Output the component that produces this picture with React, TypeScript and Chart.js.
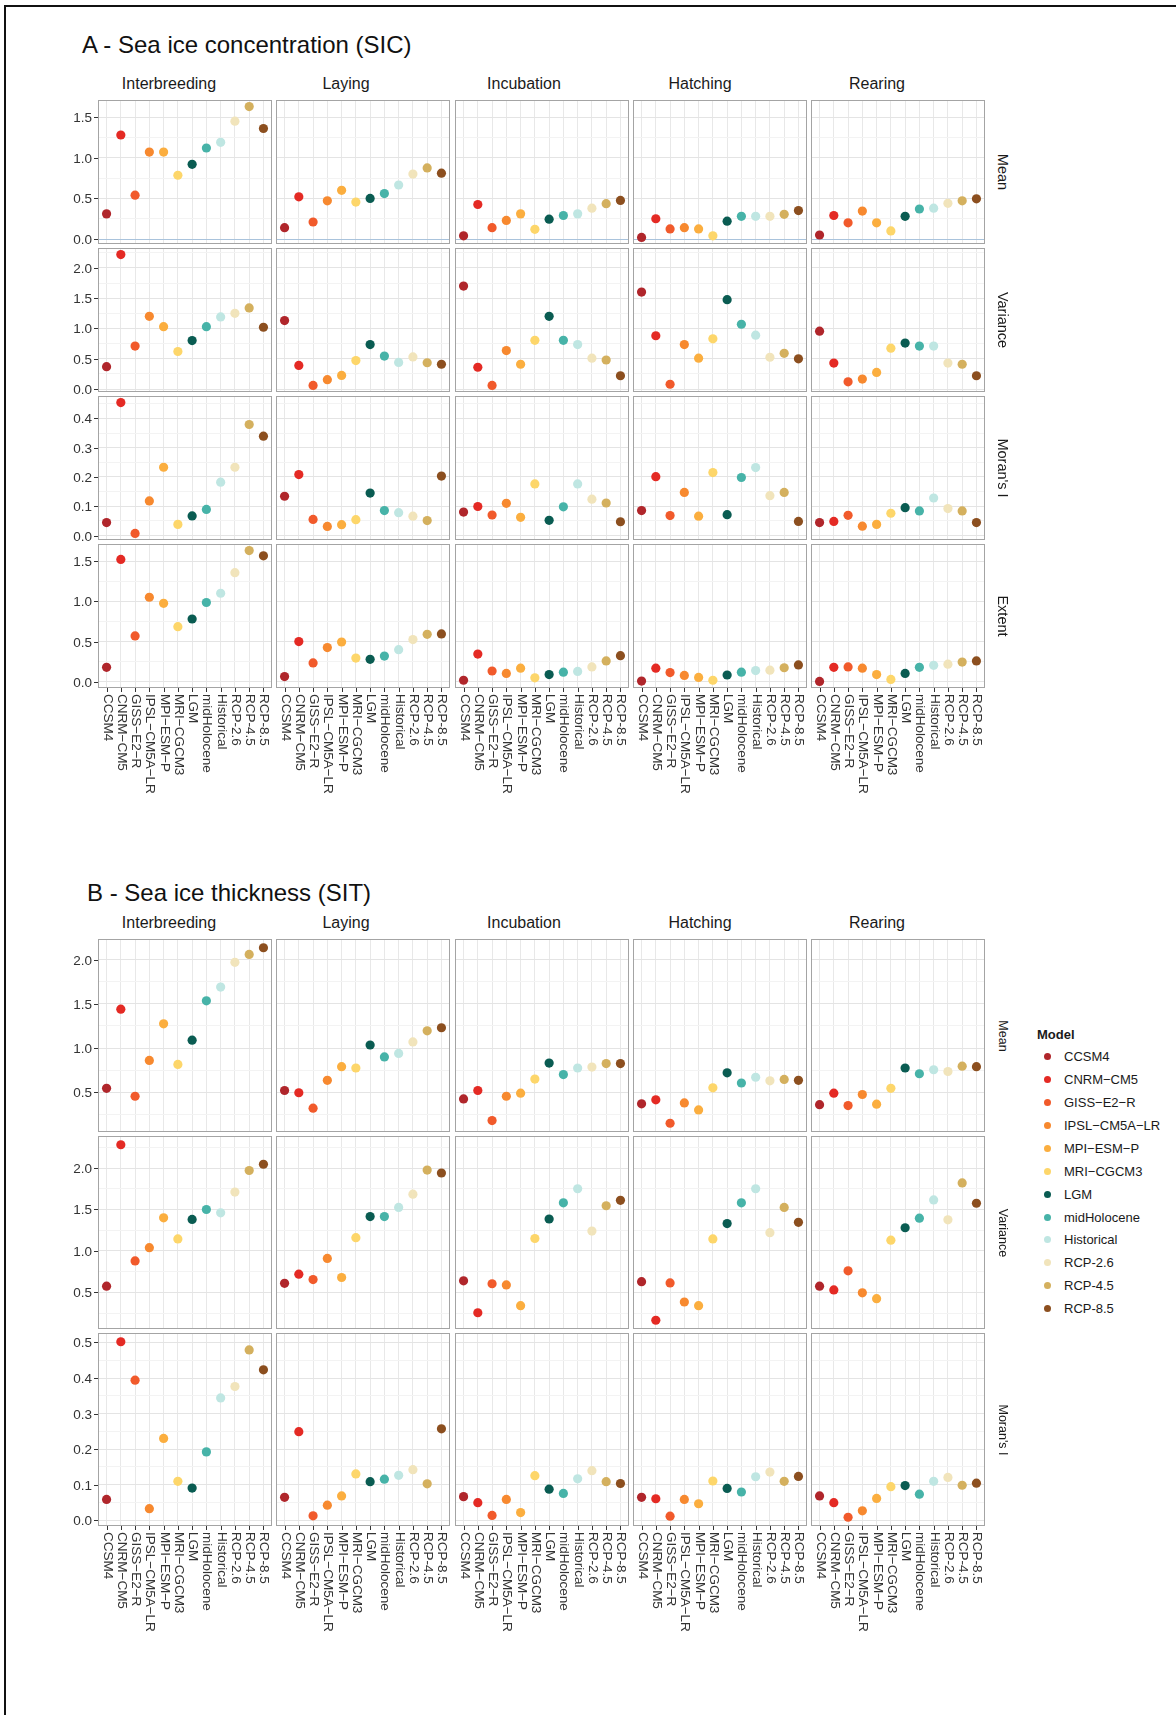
import React, { useEffect, useRef } from "react";
import { Chart, registerables } from "chart.js";

Chart.register(...registerables);

const FONT = '"Liberation Sans", Arial, Helvetica, sans-serif';

// ---------- data ----------
const categories = [
  "CCSM4", "CNRM−CM5", "GISS−E2−R", "IPSL−CM5A−LR", "MPI−ESM−P", "MRI−CGCM3",
  "LGM", "midHolocene", "Historical", "RCP-2.6", "RCP-4.5", "RCP-8.5",
];
const colors = [
  "#b0262b", "#e42a24", "#f15a2b", "#f7892f", "#fbae3f", "#fdd66a",
  "#0a5c52", "#47b3a8", "#bfe6e2", "#f1e4bb", "#d4b05e", "#8c4f1f",
];
const stages = ["Interbreeding", "Laying", "Incubation", "Hatching", "Rearing"];

// A - Sea ice concentration (rows: stages in order above)
const sicMean = [
  [0.31, 1.28, 0.54, 1.07, 1.07, 0.785, 0.92, 1.12, 1.19, 1.45, 1.63, 1.36],
  [0.14, 0.52, 0.21, 0.47, 0.6, 0.455, 0.5, 0.56, 0.665, 0.8, 0.875, 0.81],
  [0.04, 0.425, 0.14, 0.23, 0.31, 0.12, 0.245, 0.29, 0.31, 0.38, 0.435, 0.475],
  [0.02, 0.25, 0.125, 0.14, 0.125, 0.04, 0.22, 0.28, 0.28, 0.28, 0.305, 0.35],
  [0.05, 0.29, 0.2, 0.345, 0.2, 0.1, 0.28, 0.37, 0.38, 0.44, 0.47, 0.495],
];
const sicVariance = [
  [0.37, 2.22, 0.71, 1.2, 1.03, 0.62, 0.8, 1.03, 1.19, 1.25, 1.34, 1.02],
  [1.13, 0.39, 0.06, 0.155, 0.225, 0.47, 0.735, 0.545, 0.44, 0.53, 0.435, 0.41],
  [1.7, 0.36, 0.06, 0.635, 0.41, 0.805, 1.2, 0.805, 0.735, 0.51, 0.48, 0.22],
  [1.6, 0.88, 0.08, 0.735, 0.51, 0.83, 1.475, 1.07, 0.89, 0.525, 0.59, 0.5],
  [0.955, 0.43, 0.12, 0.165, 0.275, 0.675, 0.76, 0.71, 0.71, 0.43, 0.41, 0.22],
];
const sicMoran = [
  [0.044, 0.454, 0.007, 0.118, 0.233, 0.038, 0.067, 0.089, 0.182, 0.233, 0.379, 0.339],
  [0.134, 0.208, 0.055, 0.031, 0.037, 0.054, 0.145, 0.085, 0.078, 0.066, 0.051, 0.203],
  [0.08, 0.099, 0.07, 0.11, 0.062, 0.176, 0.052, 0.098, 0.176, 0.124, 0.111, 0.047],
  [0.085, 0.201, 0.068, 0.147, 0.066, 0.215, 0.071, 0.198, 0.232, 0.136, 0.147, 0.048],
  [0.044, 0.048, 0.069, 0.032, 0.038, 0.076, 0.095, 0.084, 0.128, 0.092, 0.084, 0.044],
];
const sicExtent = [
  [0.18, 1.52, 0.57, 1.05, 0.975, 0.685, 0.78, 0.985, 1.1, 1.355, 1.63, 1.565],
  [0.066, 0.5, 0.235, 0.425, 0.495, 0.295, 0.28, 0.32, 0.4, 0.525, 0.59, 0.595],
  [0.02, 0.345, 0.135, 0.105, 0.17, 0.05, 0.09, 0.12, 0.13, 0.185, 0.26, 0.325],
  [0.01, 0.17, 0.115, 0.08, 0.055, 0.02, 0.085, 0.12, 0.14, 0.145, 0.175, 0.21],
  [0.005, 0.18, 0.185, 0.17, 0.09, 0.03, 0.105, 0.18, 0.205, 0.22, 0.245, 0.26],
];

// B - Sea ice thickness
const sitMean = [
  [0.545, 1.44, 0.455, 0.86, 1.275, 0.815, 1.09, 1.535, 1.69, 1.97, 2.06, 2.135],
  [0.52, 0.495, 0.32, 0.635, 0.79, 0.775, 1.035, 0.9, 0.94, 1.07, 1.195, 1.23],
  [0.425, 0.52, 0.18, 0.455, 0.49, 0.65, 0.83, 0.7, 0.775, 0.785, 0.825, 0.825],
  [0.37, 0.415, 0.15, 0.38, 0.3, 0.55, 0.72, 0.605, 0.67, 0.63, 0.645, 0.635],
  [0.36, 0.49, 0.35, 0.475, 0.365, 0.545, 0.775, 0.71, 0.755, 0.735, 0.795, 0.79],
];
const sitVariance = [
  [0.575, 2.28, 0.88, 1.04, 1.4, 1.145, 1.38, 1.5, 1.46, 1.71, 1.97, 2.045],
  [0.61, 0.72, 0.655, 0.91, 0.68, 1.16, 1.415, 1.415, 1.525, 1.685, 1.975, 1.94],
  [0.64, 0.255, 0.605, 0.59, 0.34, 1.15, 1.385, 1.58, 1.75, 1.24, 1.545, 1.61],
  [0.63, 0.165, 0.615, 0.385, 0.34, 1.145, 1.33, 1.58, 1.75, 1.22, 1.525, 1.345],
  [0.575, 0.53, 0.76, 0.495, 0.425, 1.13, 1.28, 1.395, 1.615, 1.375, 1.82, 1.575],
];
const sitMoran = [
  [0.058, 0.502, 0.394, 0.032, 0.23, 0.109, 0.09, 0.192, 0.344, 0.376, 0.479, 0.423],
  [0.064, 0.249, 0.012, 0.042, 0.068, 0.13, 0.108, 0.115, 0.126, 0.142, 0.102, 0.257],
  [0.066, 0.049, 0.013, 0.058, 0.021, 0.125, 0.087, 0.075, 0.116, 0.139, 0.108, 0.103],
  [0.064, 0.06, 0.011, 0.058, 0.046, 0.11, 0.089, 0.079, 0.122, 0.135, 0.109, 0.123],
  [0.068, 0.049, 0.008, 0.026, 0.061, 0.094, 0.097, 0.073, 0.109, 0.12, 0.098, 0.104],
];

// tick labels per row
const sicMeanTicks = [0, 0.5, 1, 1.5];
const sicVarianceTicks = [0, 0.5, 1, 1.5, 2];
const sicMoranTicks = [0, 0.1, 0.2, 0.3, 0.4];
const sicExtentTicks = [0, 0.5, 1, 1.5];
const sitMeanTicks = [0.5, 1, 1.5, 2];
const sitVarianceTicks = [0.5, 1, 1.5, 2];
const sitMoranTicks = [0, 0.1, 0.2, 0.3, 0.4, 0.5];

// ---------- layout ----------
const COL_LEFT = [98, 276, 455, 633, 811];
const COL_W = 174;
const STRIP_CX = [169, 346, 524, 700, 877];
const Y_AXIS_W = 60;
const X_AXIS_H = 130;
const V_PAD = 10;

type RowSpec = {
  label: string;
  values: number[][];
  ticks: number[];
  minor: number;
  zeroLine?: boolean;
};

const rowsA: RowSpec[] = [
  { label: "Mean", values: sicMean, ticks: sicMeanTicks, minor: 0.25, zeroLine: true },
  { label: "Variance", values: sicVariance, ticks: sicVarianceTicks, minor: 0.25 },
  { label: "Moran's I", values: sicMoran, ticks: sicMoranTicks, minor: 0.05 },
  { label: "Extent", values: sicExtent, ticks: sicExtentTicks, minor: 0.25 },
];
const rowsB: RowSpec[] = [
  { label: "Mean", values: sitMean, ticks: sitMeanTicks, minor: 0.25 },
  { label: "Variance", values: sitVariance, ticks: sitVarianceTicks, minor: 0.25 },
  { label: "Moran's I", values: sitMoran, ticks: sitMoranTicks, minor: 0.05 },
];

type FacetProps = {
  values: number[];
  ticks: number[];
  minor: number;
  col: number;
  bottom: boolean;
  top: number;
  h: number;
  yMin: number;
  yMax: number;
  zeroLine?: boolean;
};

function Facet({ values, ticks, minor, col, bottom, top, h, yMin, yMax, zeroLine }: FacetProps) {
  const ref = useRef<HTMLCanvasElement | null>(null);
  const padL = col === 0 ? Y_AXIS_W : 0;
  const padT = V_PAD;
  const padB = bottom ? X_AXIS_H : V_PAD;
  const cw = COL_W + padL;
  const ch = h + padT + padB;
  const left = COL_LEFT[col];

  useEffect(() => {
    if (!ref.current) return;
    const isMajor = (v: number) => ticks.some((t) => Math.abs(t - v) < 1e-9);
    const allTicks: number[] = [];
    for (let k = Math.ceil(yMin / minor - 1e-9); k * minor <= yMax + 1e-9; k++) {
      allTicks.push(+(k * minor).toFixed(6));
    }
    const decor = {
      id: "decor",
      afterDraw(chart: any) {
        const { ctx, chartArea: a } = chart;
        const ys = chart.scales.y;
        const xs = chart.scales.x;
        ctx.save();
        ctx.strokeStyle = "#a4a4a4";
        ctx.lineWidth = 1;
        ctx.strokeRect(a.left + 0.5, a.top + 0.5, a.right - a.left - 1, a.bottom - a.top - 1);
        ctx.fillStyle = "#333333";
        ctx.strokeStyle = "#333333";
        if (col === 0) {
          ctx.font = `13.5px ${FONT}`;
          ctx.textAlign = "right";
          ctx.textBaseline = "middle";
          ticks.forEach((t) => {
            const y = Math.round(ys.getPixelForValue(t)) + 0.5;
            ctx.beginPath();
            ctx.moveTo(a.left - 4, y);
            ctx.lineTo(a.left, y);
            ctx.stroke();
            ctx.fillText(t.toFixed(1), a.left - 6, y + 0.5);
          });
        }
        if (bottom) {
          ctx.font = `13.5px ${FONT}`;
          ctx.textAlign = "left";
          ctx.textBaseline = "middle";
          categories.forEach((c, i) => {
            const x = Math.round(xs.getPixelForValue(i + 1)) + 0.5;
            ctx.beginPath();
            ctx.moveTo(x, a.bottom);
            ctx.lineTo(x, a.bottom + 4);
            ctx.stroke();
            ctx.save();
            ctx.translate(x, a.bottom + 6);
            ctx.rotate(Math.PI / 2);
            ctx.fillText(c, 0, 0);
            ctx.restore();
          });
        }
        ctx.restore();
      },
    };

    const chart = new Chart(ref.current, {
      type: "scatter",
      data: {
        datasets: [
          {
            data: values.map((v, i) => ({ x: i + 1, y: v })),
            pointBackgroundColor: colors,
            pointBorderWidth: 0,
            pointRadius: 4.6,
            pointHoverRadius: 4.6,
            clip: false as any,
          },
        ],
      },
      options: {
        responsive: false,
        animation: false,
        events: [],
        layout: { autoPadding: false, padding: { left: padL, bottom: padB, top: padT, right: 0 } },
        plugins: { legend: { display: false }, tooltip: { enabled: false } },
        scales: {
          x: {
            type: "linear",
            min: 0.4,
            max: 12.6,
            afterBuildTicks: (s: any) => {
              s.ticks = categories.map((_, i) => ({ value: i + 1 }));
            },
            afterFit: (s: any) => {
              s.height = 0;
            },
            ticks: { display: false },
            grid: { drawTicks: false, color: "#e8e8e8", lineWidth: 1 },
            border: { display: false },
          },
          y: {
            type: "linear",
            min: yMin,
            max: yMax,
            afterBuildTicks: (s: any) => {
              s.ticks = allTicks.map((v) => ({ value: v }));
            },
            afterFit: (s: any) => {
              s.width = 0;
            },
            ticks: { display: false },
            grid: {
              drawTicks: false,
              lineWidth: 1,
              color: (c: any) => {
                const v = c.tick ? c.tick.value : NaN;
                if (zeroLine && Math.abs(v) < 1e-9) return "#a9c3dc";
                return isMajor(v) ? "#e4e4e4" : "#f3f3f3";
              },
            },
            border: { display: false },
          },
        },
      } as any,
      plugins: [decor],
    });
    return () => chart.destroy();
  }, []);

  return (
    <canvas
      ref={ref}
      width={cw}
      height={ch}
      style={{ position: "absolute", left: left - padL, top: top - padT, width: cw, height: ch }}
    />
  );
}

function Panel({ rows, tops, h, labelSize }: { rows: RowSpec[]; tops: number[]; h: number; labelSize: number }) {
  return (
    <>
      {rows.map((row, r) => {
        const flat = row.values.flat();
        const lo = Math.min(...flat);
        const hi = Math.max(...flat);
        const pad = (hi - lo) * 0.05;
        const yMin = lo - pad;
        const yMax = hi + pad;
        return (
          <React.Fragment key={row.label}>
            {stages.map((s, c) => (
              <Facet
                key={s}
                values={row.values[c]}
                ticks={row.ticks}
                minor={row.minor}
                col={c}
                bottom={r === rows.length - 1}
                top={tops[r]}
                h={h}
                yMin={yMin}
                yMax={yMax}
                zeroLine={row.zeroLine}
              />
            ))}
            <div
              style={{
                position: "absolute",
                left: 1003,
                top: tops[r] + h / 2,
                transform: "translate(-50%, -50%)",
                writingMode: "vertical-rl",
                fontSize: labelSize,
                lineHeight: 1,
                color: "#1a1a1a",
                whiteSpace: "nowrap",
              }}
            >
              {row.label}
            </div>
          </React.Fragment>
        );
      })}
    </>
  );
}

function Strips({ top }: { top: number }) {
  return (
    <>
      {stages.map((s, i) => (
        <div
          key={s}
          style={{
            position: "absolute",
            left: STRIP_CX[i],
            top,
            transform: "translateX(-50%)",
            fontSize: 16,
            lineHeight: 1,
            color: "#1a1a1a",
            whiteSpace: "nowrap",
          }}
        >
          {s}
        </div>
      ))}
    </>
  );
}

function Legend() {
  return (
    <>
      <div
        style={{
          position: "absolute",
          left: 1037,
          top: 1028,
          fontSize: 13,
          fontWeight: "bold",
          lineHeight: 1,
          color: "#1a1a1a",
        }}
      >
        Model
      </div>
      {categories.map((c, i) => {
        const cy = 1056.7 + i * 22.9;
        return (
          <div
            key={c}
            style={{
              position: "absolute",
              left: 1044,
              top: cy - 8,
              height: 16,
              display: "flex",
              alignItems: "center",
              fontSize: 13,
              color: "#1a1a1a",
              whiteSpace: "nowrap",
            }}
          >
            <span
              style={{
                display: "inline-block",
                width: 7,
                height: 7,
                borderRadius: "50%",
                background: colors[i],
                marginRight: 13,
              }}
            />
            <span>{c}</span>
          </div>
        );
      })}
    </>
  );
}

export default function App() {
  return (
    <div
      style={{
        position: "absolute",
        left: 0,
        top: 0,
        width: 1176,
        height: 1715,
        background: "#ffffff",
        overflow: "hidden",
        fontFamily: FONT,
      }}
    >
      <div
        style={{
          position: "absolute",
          left: 4,
          top: 5,
          width: 1172,
          height: 1710,
          borderTop: "2px solid #111",
          borderLeft: "2px solid #111",
          boxSizing: "border-box",
        }}
      />
      <div style={{ position: "absolute", left: 82, top: 33, fontSize: 24, lineHeight: 1, color: "#111" }}>
        A - Sea ice concentration (SIC)
      </div>
      <Strips top={76} />
      <Panel rows={rowsA} tops={[100, 248, 396, 544]} h={144} labelSize={14.5} />

      <div style={{ position: "absolute", left: 87, top: 881, fontSize: 24, lineHeight: 1, color: "#111" }}>
        B - Sea ice thickness (SIT)
      </div>
      <Strips top={915} />
      <Panel rows={rowsB} tops={[939, 1136, 1333]} h={193} labelSize={12.5} />
      <Legend />
    </div>
  );
}
